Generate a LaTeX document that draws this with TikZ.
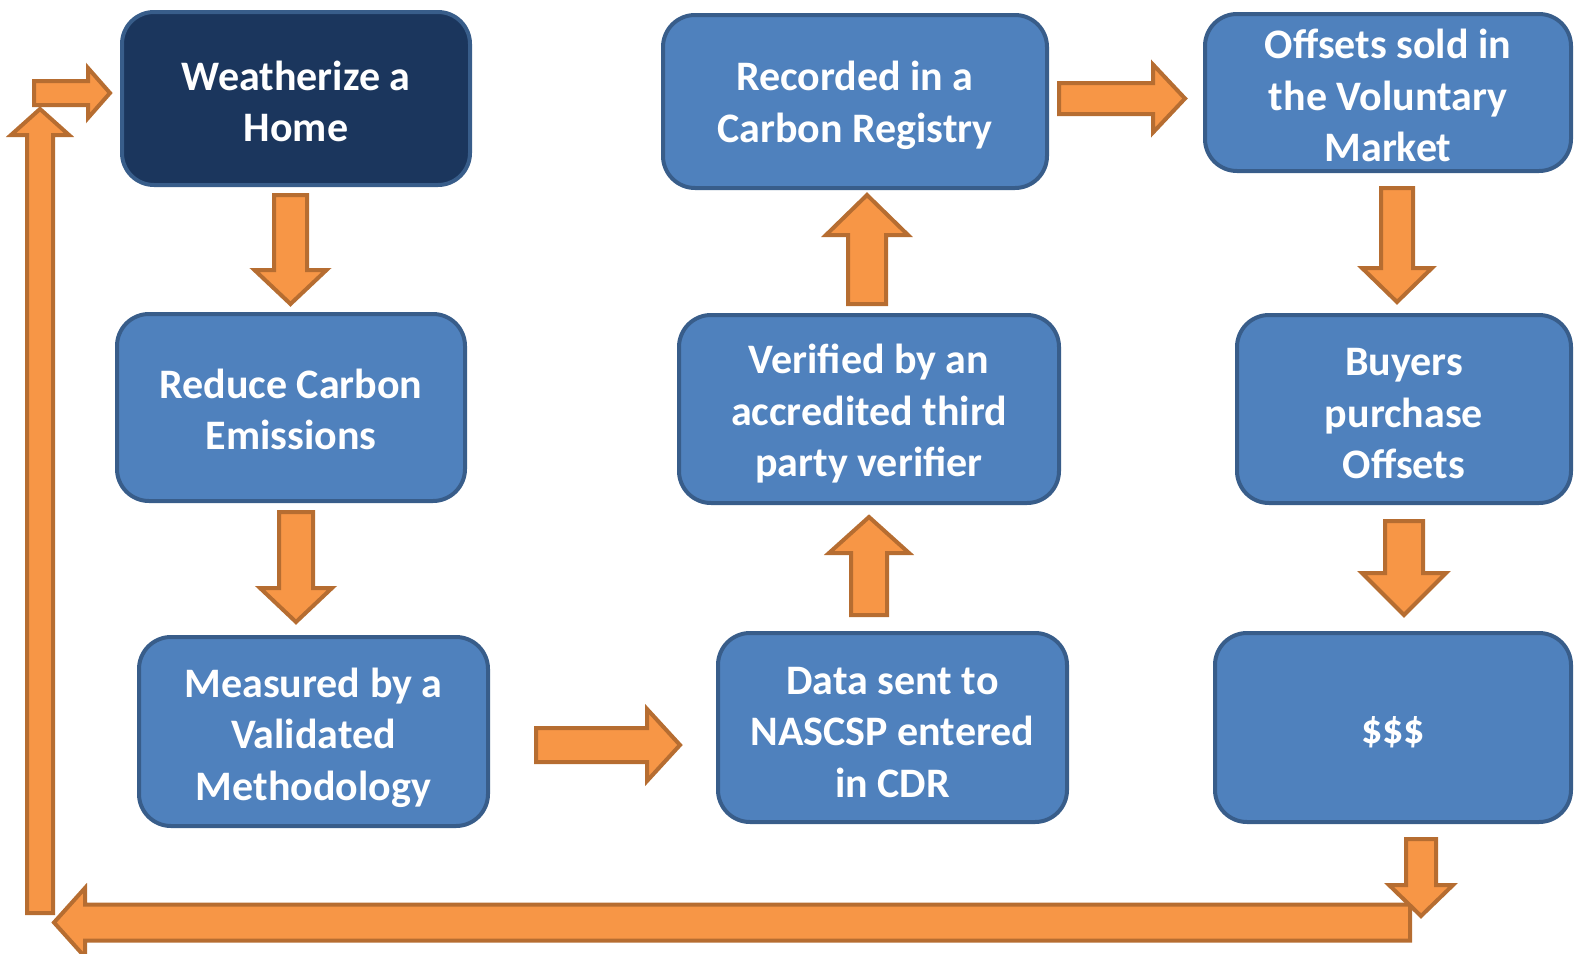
\documentclass[tikz,border=0pt]{standalone}
\usepackage{fontspec}
\setmainfont{Carlito}
\definecolor{boxfill}{HTML}{4F81BD}
\definecolor{boxline}{HTML}{385D8A}
\definecolor{darkfill}{HTML}{1B365D}
\definecolor{arrfill}{HTML}{F79646}
\definecolor{arrline}{HTML}{B66D31}
\tikzset{
  box/.style={draw=boxline, fill=boxfill, line width=4pt, rounded corners=32pt, inner sep=0pt},
  darkbox/.style={box, fill=darkfill},
  boxtext/.style={text=white, font=\bfseries\fontsize{42}{51.5}\selectfont, align=center, inner sep=0pt},
  barrow/.style={draw=arrline, fill=arrfill, line width=4pt, line join=miter}
}
% vertical block arrow: xc, shaft start y, head base y, tip y, shaft half width, head half width
\newcommand\ArrV[6]{\draw[barrow] (#1-#5,#2) -- (#1+#5,#2) -- (#1+#5,#3) -- (#1+#6,#3) -- (#1,#4) -- (#1-#6,#3) -- (#1-#5,#3) -- cycle;}
% horizontal block arrow: yc, shaft start x, head base x, tip x, shaft half width, head half width
\newcommand\ArrH[6]{\draw[barrow] (#2,#1-#5) -- (#2,#1+#5) -- (#3,#1+#5) -- (#3,#1+#6) -- (#4,#1) -- (#3,#1-#6) -- (#3,#1-#5) -- cycle;}
\begin{document}
\begin{tikzpicture}[x=1pt,y=-1pt]
\useasboundingbox (0,0) rectangle (1574,953);
\node[darkbox, minimum width=348pt, minimum height=173pt] (w) at (296,98.5) {};
\node[box, minimum width=348pt, minimum height=187pt] (r) at (291,407.5) {};
\node[box, minimum width=349pt, minimum height=189pt] (m) at (313.5,731.5) {};
\node[box, minimum width=384pt, minimum height=173pt] (rec) at (855,101.5) {};
\node[box, minimum width=380pt, minimum height=188pt] (v) at (869,409) {};
\node[box, minimum width=349pt, minimum height=189pt] (d) at (892.5,727.5) {};
\node[box, minimum width=366pt, minimum height=157pt] (o) at (1388,92.5) {};
\node[box, minimum width=334pt, minimum height=188pt] (b) at (1404,409) {};
\node[box, minimum width=356pt, minimum height=189pt] (s) at (1393,727.5) {};
\node[boxtext] (wt) at ([yshift=-3pt]w.center) {Weatherize a\\Home};
\node[boxtext] (rt) at ([yshift=-2pt]r.center) {Reduce Carbon\\Emissions};
\node[boxtext] (mt) at ([yshift=-6pt]m.center) {Measured by a\\Validated\\Methodology};
\node[boxtext] (rect) at ([yshift=-4pt]rec.center) {Recorded in a\\Carbon Registry};
\node[boxtext] (vt) at ([yshift=-5pt]v.center) {Verified by an\\accredited third\\party verifier};
\node[boxtext] (dt) at ([yshift=-5pt]d.center) {Data sent to\\NASCSP entered\\in CDR};
\node[boxtext] (ot) at ([yshift=-3pt]o.center) {Offsets sold in\\the Voluntary\\Market};
\node[boxtext] (bt) at ([yshift=-5pt]b.center) {Buyers\\purchase\\Offsets};
\node[boxtext] (st) at ([yshift=-5pt]s.center) {\$\$\$};
% arrows
\ArrV{290.5}{195}{270}{304}{16.5}{36}
\ArrV{296}{512}{588}{622}{17}{36}
\ArrH{745}{536}{647}{680}{17}{36}
\ArrV{869}{615}{553}{517}{18}{40}
\ArrV{867}{304}{235}{195}{19}{41}
\ArrH{98.5}{1059}{1153}{1185}{15.5}{34}
\ArrV{1397}{188}{268}{302}{16}{35}
\ArrV{1404}{521}{573}{615}{19}{42}
\ArrH{922.5}{1410}{85}{54}{18}{34.5}
\ArrV{40}{913}{135}{109}{13}{29}
\ArrH{93}{34}{88}{110}{12}{25}
\ArrV{1421}{839}{885}{916}{15}{32}
\end{tikzpicture}
\end{document}
